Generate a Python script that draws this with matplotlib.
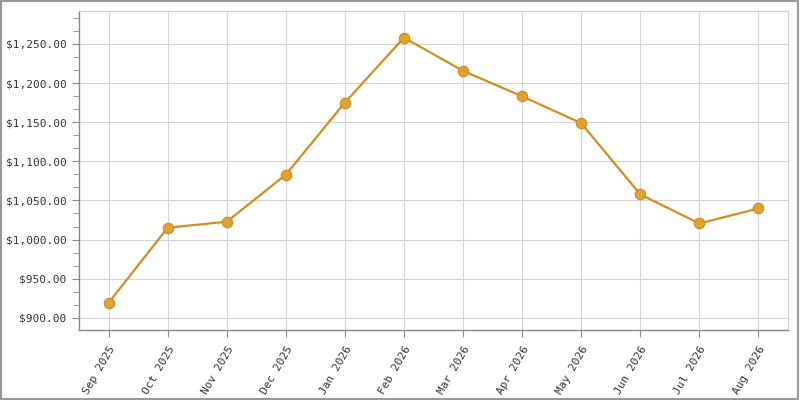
import matplotlib
matplotlib.use("Agg")
import matplotlib.pyplot as plt
from matplotlib.ticker import MultipleLocator, AutoMinorLocator, FuncFormatter
from matplotlib.patches import Rectangle

months = ["Sep 2025", "Oct 2025", "Nov 2025", "Dec 2025", "Jan 2026", "Feb 2026",
          "Mar 2026", "Apr 2026", "May 2026", "Jun 2026", "Jul 2026", "Aug 2026"]
values = [919.2, 1015.1, 1022.8, 1082.9, 1175.0, 1258.0,
          1215.5, 1183.0, 1148.7, 1057.7, 1020.6, 1039.8]

plt.rcParams['font.family'] = ['DejaVu Sans Mono']

fig = plt.figure(figsize=(8, 4), dpi=100)
ax = fig.add_axes([0.09875, 0.175, 0.88625, 0.7975])

xs = range(len(months))
ax.plot(xs, values, color='#d08e1c', lw=1.6, zorder=3,
        marker='o', ms=7.5, markerfacecolor='#e0a232', markeredgecolor='#c98a1c',
        markeredgewidth=0.8)

ax.set_xlim(-0.5, len(months) - 0.5)
ax.set_ylim(884.5, 1292)
ax.set_xticks(list(xs))
ax.set_xticklabels(months, rotation=60, ha='right', va='top',
                   rotation_mode='anchor', fontsize=8, color='#333333')
ax.yaxis.set_major_locator(MultipleLocator(50))
ax.yaxis.set_minor_locator(AutoMinorLocator(n=3))
ax.yaxis.set_major_formatter(FuncFormatter(lambda v, p: "${:,.2f}".format(v)))
for lab in ax.get_yticklabels():
    lab.set_fontsize(8)
    lab.set_color('#333333')

ax.grid(True, which='major', color='#d4d4d4', lw=0.8)
ax.set_axisbelow(True)
ax.tick_params(axis='both', which='major', length=5, color='#888888', pad=4)
ax.tick_params(axis='y', which='minor', length=4, color='#888888')
ax.tick_params(axis='x', which='major', pad=5)

for side in ['left', 'bottom']:
    ax.spines[side].set_color('#888888')
    ax.spines[side].set_linewidth(1)
for side in ['top', 'right']:
    ax.spines[side].set_color('#cfcfcf')
    ax.spines[side].set_linewidth(0.8)

fig.patches.append(Rectangle((0.001, 0.002), 0.997, 0.996, transform=fig.transFigure,
                             fill=False, edgecolor='#999999', lw=1.5))

fig.savefig("out.png", dpi=100)
